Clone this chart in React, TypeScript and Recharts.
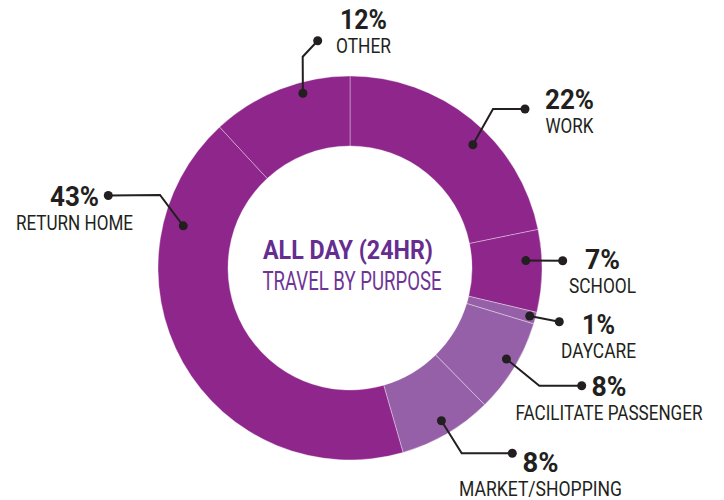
import { PieChart, Pie, Cell } from 'recharts';

const purposes = ['WORK', 'SCHOOL', 'DAYCARE', 'FACILITATE PASSENGER', 'MARKET/SHOPPING', 'RETURN HOME', 'OTHER'];
const shares = [22, 7, 1, 8, 8, 43, 12];
const tones = ['dark', 'dark', 'light', 'light', 'light', 'dark', 'dark'];

const DARK = '#8E268C';
const LIGHT = '#9660A8';
const INK = '#231F20';
const FONT = "'Liberation Sans Narrow', 'Roboto', sans-serif";
const CX = 350;
const CY = 268;

const data = purposes.map((name, i) => ({ name, value: shares[i] }));

// leader-line layout, offsets from the pie centre; w = [percent width, name width]
type Leader = {
  shift: number;
  r: number;
  elbow?: [number, number];
  end: [number, number];
  text: [number, number];
  w: [number, number];
};

const leaders: Leader[] = [
  { shift: -5.7, r: 174, elbow: [143, -159], end: [175, -159], text: [219.5, -158.7], w: [49, 48] },
  { shift: 3.3, r: 176, end: [212.7, -7.3], text: [252.5, 1.3], w: [35, 67] },
  { shift: 0.2, r: 186, end: [209.3, 53.7], text: [248.5, 66], w: [33, 75] },
  { shift: 1, r: 181, elbow: [189.3, 117.7], end: [231.7, 117.7], text: [259, 127.7], w: [35, 187] },
  { shift: 0.6, r: 178, elbow: [111.7, 185.3], end: [162.3, 185.3], text: [190.5, 204.3], w: [36, 163] },
  { shift: -43.6, r: 172, elbow: [-190, -73], end: [-241.7, -72.5], text: [-275.5, -62.3], w: [49, 117] },
  { shift: -6.3, r: 181, elbow: [-47.3, -211.3], end: [-32.3, -227.3], text: [13.5, -238.7], w: [47, 55] },
];

const RAD = Math.PI / 180;

const renderLabel = (props: any) => {
  const { cx, cy, midAngle, index, value, name } = props;
  const l = leaders[index];
  const a = (midAngle + l.shift) * RAD;
  const ax = cx + l.r * Math.cos(a);
  const ay = cy - l.r * Math.sin(a);
  const pts = [[ax, ay]];
  if (l.elbow) pts.push([cx + l.elbow[0], cy + l.elbow[1]]);
  const ex = cx + l.end[0];
  const ey = cy + l.end[1];
  pts.push([ex, ey]);
  const tx = cx + l.text[0];
  const ty = cy + l.text[1];
  return (
    <g key={`lbl-${index}`}>
      <polyline
        points={pts.map((p) => p.join(',')).join(' ')}
        fill="none"
        stroke={INK}
        strokeWidth={2}
      />
      <circle cx={ax} cy={ay} r={4.5} fill={INK} />
      <circle cx={ex} cy={ey} r={4.5} fill={INK} />
      <text
        x={tx}
        y={ty}
        textAnchor="middle"
        fill={INK}
        fontFamily={FONT}
        fontWeight="bold"
        fontSize={27}
        textLength={l.w[0]}
        lengthAdjust="spacingAndGlyphs"
      >
        {`${value}%`}
      </text>
      <text
        x={tx}
        y={ty + 24}
        textAnchor="middle"
        fill={INK}
        fontFamily={FONT}
        fontSize={20}
        textLength={l.w[1]}
        lengthAdjust="spacingAndGlyphs"
      >
        {name}
      </text>
    </g>
  );
};

export default function App() {
  return (
    <div style={{ position: 'absolute', left: 0, top: 0, width: 724, height: 500, background: '#fff' }}>
      <PieChart width={724} height={500} margin={{ top: 0, right: 0, bottom: 0, left: 0 }}>
        <Pie
          data={data}
          dataKey="value"
          nameKey="name"
          cx={CX}
          cy={CY}
          innerRadius={122}
          outerRadius={192}
          startAngle={90}
          endAngle={-270}
          stroke="#ffffff"
          strokeWidth={0.8}
          strokeOpacity={0.45}
          label={renderLabel}
          labelLine={false}
          isAnimationActive={false}
        >
          {data.map((entry, i) => (
            <Cell key={entry.name} fill={tones[i] === 'dark' ? DARK : LIGHT} />
          ))}
        </Pie>
      </PieChart>
      <svg
        width={724}
        height={500}
        style={{ position: 'absolute', left: 0, top: 0, pointerEvents: 'none' }}
      >
        <text
          x={CX - 2}
          y={CY - 8.7}
          textAnchor="middle"
          fill="#662D91"
          fontFamily={FONT}
          fontWeight="bold"
          fontSize={26}
          textLength={170}
          lengthAdjust="spacingAndGlyphs"
        >
          ALL DAY (24HR)
        </text>
        <text
          x={CX + 2}
          y={CY + 22}
          textAnchor="middle"
          fill="#6F3596"
          fontFamily={FONT}
          fontSize={26}
          textLength={179}
          lengthAdjust="spacingAndGlyphs"
        >
          TRAVEL BY PURPOSE
        </text>
      </svg>
    </div>
  );
}
